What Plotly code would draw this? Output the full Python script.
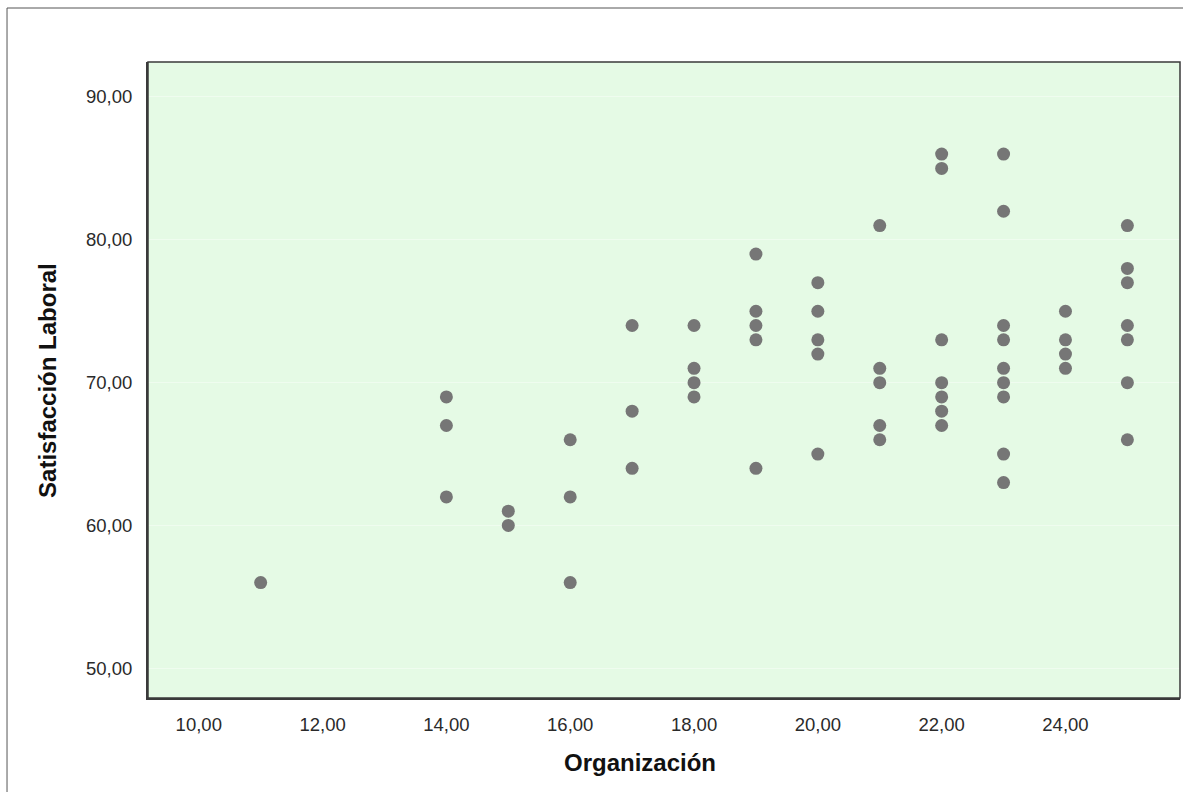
import plotly.graph_objects as go

# Data (Organización vs Satisfacción Laboral)
organizacion = (
    [11]
    + [14, 14, 14]
    + [15, 15]
    + [16, 16, 16]
    + [17, 17, 17]
    + [18, 18, 18, 18]
    + [19, 19, 19, 19, 19]
    + [20, 20, 20, 20, 20]
    + [21, 21, 21, 21, 21]
    + [22, 22, 22, 22, 22, 22, 22]
    + [23, 23, 23, 23, 23, 23, 23, 23, 23]
    + [24, 24, 24, 24]
    + [25, 25, 25, 25, 25, 25, 25]
)
satisfaccion = (
    [56]
    + [69, 67, 62]
    + [61, 60]
    + [66, 62, 56]
    + [74, 68, 64]
    + [74, 71, 70, 69]
    + [79, 75, 74, 73, 64]
    + [77, 75, 73, 72, 65]
    + [81, 71, 70, 67, 66]
    + [86, 85, 73, 70, 69, 68, 67]
    + [86, 82, 74, 73, 71, 70, 69, 65, 63]
    + [75, 73, 72, 71]
    + [81, 78, 77, 74, 73, 70, 66]
)
x_ticks = [10, 12, 14, 16, 18, 20, 22, 24]
x_ticklabels = ["10,00", "12,00", "14,00", "16,00", "18,00", "20,00", "22,00", "24,00"]
y_ticks = [50, 60, 70, 80, 90]
y_ticklabels = ["50,00", "60,00", "70,00", "80,00", "90,00"]

FONT = "Liberation Sans, Arial, sans-serif"

fig = go.Figure()
fig.add_trace(go.Scatter(
    x=organizacion, y=satisfaccion, mode="markers",
    marker=dict(size=13, color="#767676", line=dict(width=0)),
    showlegend=False, hoverinfo="x+y",
))

fig.update_layout(
    width=1183, height=792,
    margin=dict(l=148, r=3, t=62, b=94),
    paper_bgcolor="white",
    plot_bgcolor="#E5FAE5",
    font=dict(family=FONT, size=18.5, color="#2a2a2a"),
    xaxis=dict(
        range=[9.18, 25.85],
        tickmode="array", tickvals=x_ticks, ticktext=x_ticklabels,
        showgrid=False, zeroline=False,
        showline=True, linecolor="#3a3a3a", linewidth=2,
        ticks="", ticklabelstandoff=9,
        tickfont=dict(family=FONT, size=18.5, color="#2a2a2a"),
    ),
    yaxis=dict(
        range=[47.92, 92.45],
        tickmode="array", tickvals=y_ticks, ticktext=y_ticklabels,
        showgrid=True, gridcolor="#EFFCEF", gridwidth=1,
        zeroline=False,
        showline=True, linecolor="#3a3a3a", linewidth=2,
        ticks="", ticklabelstandoff=10,
        tickfont=dict(family=FONT, size=18.5, color="#2a2a2a"),
    ),
    shapes=[
        dict(type="rect", xref="paper", yref="paper", x0=0, x1=1, y0=0, y1=1,
             line=dict(color="#3a3a3a", width=1.5), layer="above"),
        dict(type="rect", xref="paper", yref="paper",
             x0=-0.1366, x1=1.2, y0=-0.3, y1=1.0849,
             line=dict(color="#555555", width=1), layer="below"),
    ],
    annotations=[
        dict(text="<b>Organización</b>", xref="paper", yref="paper",
             x=0.4767, y=-0.1022, xanchor="center", yanchor="middle",
             showarrow=False, font=dict(family=FONT, size=24, color="#111111")),
        dict(text="<b>Satisfacción Laboral</b>", xref="paper", yref="paper",
             x=-0.0979, y=0.5, xanchor="center", yanchor="middle", textangle=-90,
             showarrow=False, font=dict(family=FONT, size=24, color="#111111")),
    ],
)

fig.write_html(
    "out.html",
    config={"displayModeBar": False},
    post_script="document.body.style.margin='0px';document.body.style.overflow='hidden';",
)
